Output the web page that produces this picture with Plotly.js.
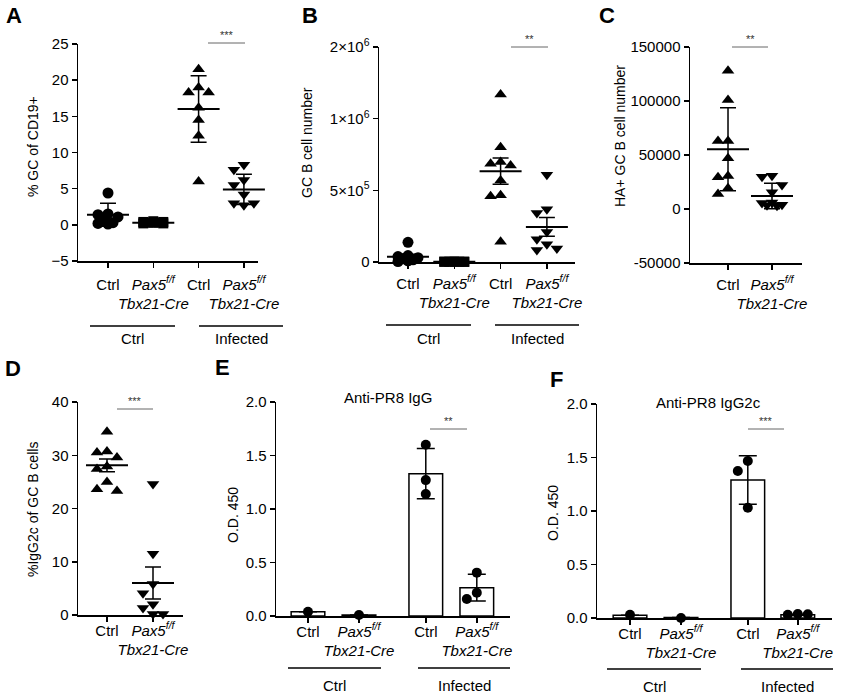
<!DOCTYPE html>
<html>
<head>
<meta charset="utf-8">
<script src="https://cdn.plot.ly/plotly-3.0.1.min.js"></script>
<style>
  body { margin: 0; background: #fff; }
  #fig { width: 843px; height: 695px; }
</style>
</head>
<body>
<div id="fig"></div>
<script>
// category labels
const catCtrl = 'Ctrl';
const catPax = '<i>Pax5<sup>f/f</sup></i><br><i>Tbx21-Cre</i>';
const groupNames = ['Ctrl', 'Infected'];

// A: % GC of CD19+ (mean +/- SD)
const aCtrl = [4.4, 1.5, 1.4, 1.1, 0.9, 0.3, 0.2, 0.1];
const aPaxCtrl = [0.5, 0.4, 0.4, 0.3, 0.3, 0.3, 0.2, 0.2];
const aInf = [21.5, 19.0, 18.3, 18.3, 16.2, 14.5, 12.3, 6.0];
const aPaxInf = [8.3, 7.6, 6.2, 5.5, 4.2, 3.0, 3.0, 2.7];
const aMean = [1.4, 0.3, 16.0, 4.9];
const aErr = [1.6, 0.15, 4.6, 2.1];

// B: GC B cell number (mean +/- SEM)
const bCtrl = [137000, 45000, 38000, 30000, 22000, 15000, 8000, 3000];
const bPaxCtrl = [4000, 3000, 3000, 2000, 2000, 1000, 1000, 500];
const bInf = [1338000, 800000, 697000, 685000, 674000, 569000, 465000, 458000, 141000];
const bPaxInf = [609000, 368000, 342000, 210000, 158000, 123000, 95000, 83000];
const bMean = [37000, 2000, 634000, 245000];
const bErr = [17000, 500, 91000, 65000];
const bTickVals = [0, 500000, 1000000, 2000000];
const bTickText = ['0', '5×10<sup>5</sup>', '1×10<sup>6</sup>', '2×10<sup>6</sup>'];

// C: HA+ GC B cell number (mean +/- SD)
const cCtrl = [128000, 100900, 63000, 63000, 46900, 30600, 29300, 19100, 13900];
const cPax = [30900, 29900, 22200, 15400, 6000, 5500, 4000, 3500, 3000];
const cMean = [55300, 12000];
const cErr = [38500, 11800];

// D: %IgG2c of GC B cells (mean +/- SEM)
const dCtrl = [34.4, 30.7, 30.5, 29.6, 27.9, 27.4, 25.0, 23.6, 23.3];
const dPax = [24.6, 11.5, 5.8, 4.1, 2.0, 1.3, 0.2, 0.2];
const dMean = [28.1, 6.0];
const dErr = [1.2, 3.0];

// E: Anti-PR8 IgG, O.D. 450 (mean +/- SD)
const eMean = [0.04, 0.01, 1.33, 0.265];
const eErr = [0, 0, 0.235, 0.125];
const ePts = [[0.04], [0.01], [1.60, 1.27, 1.14], [0.405, 0.218, 0.159]];

// F: Anti-PR8 IgG2c, O.D. 450 (mean +/- SD)
const fMean = [0.025, 0.005, 1.29, 0.03];
const fErr = [0, 0, 0.227, 0.005];
const fPts = [[0.03], [0.0], [1.467, 1.374, 1.031], [0.037, 0.03, 0.035]];

const W = 843, H = 695;
const fx = p => p / W;
const fy = p => 1 - p / H;
const FONT = 'Arial, "Liberation Sans", sans-serif';

// segmented axis for B: upper segment (1e6..2e6) is drawn at half scale
const seg = v => v <= 1e6 ? v : 1e6 + (v - 1e6) / 2;

// panel frames in pixels
const P = {
  1: { xd: [78, 258], yd: [44, 261], xr: [-0.662, 3.311], yr: [-5, 25], so: 4 },
  2: { xd: [379, 575], yd: [47, 262], xr: [-0.626, 3.607], yr: [0, 1500000], so: 2 },
  3: { xd: [690, 802], yd: [47, 263], xr: [-0.864, 1.682], yr: [-50000, 150000], so: 2 },
  4: { xd: [78, 183], yd: [402, 615], xr: [-0.630, 1.652], yr: [0, 40], so: -4 },
  5: { xd: [276, 510], yd: [402, 616], xr: [-0.627, 3.961], yr: [0, 2], so: -4 },
  6: { xd: [597, 832], yd: [404, 618], xr: [-0.647, 3.961], yr: [0, 2], so: -4 }
};
const xPx = p => (p.xd[1] - p.xd[0]) / (p.xr[1] - p.xr[0]);
const yPx = p => (p.yd[1] - p.yd[0]) / (p.yr[1] - p.yr[0]);
const sfx = i => i === 1 ? '' : String(i);

// simple beeswarm: put each point at the nearest free slot
function swarm(vals, ys, d) {
  const placed = [];
  const steps = [0, -1, 1, -0.5, 0.5];
  return vals.map(v => {
    const y = v * ys;
    let best = 0, bestGap = -1;
    for (const k of steps) {
      const x = k * d;
      let gap = Infinity;
      placed.forEach(q => { gap = Math.min(gap, Math.hypot(q.x - x, q.y - y)); });
      if (gap >= d) { best = x; bestGap = gap; break; }
      if (gap > bestGap) { bestGap = gap; best = x; }
    }
    placed.push({ x: best, y });
    return best;
  });
}

function dots(vals, pos, i, symbol, size) {
  const p = P[i];
  const off = swarm(vals, yPx(p), 10);
  return {
    type: 'scatter', mode: 'markers',
    x: vals.map((v, k) => pos + off[k] / xPx(p)), y: vals,
    xaxis: 'x' + sfx(i), yaxis: 'y' + sfx(i),
    marker: { symbol, size, color: 'black' },
    cliponaxis: false, hoverinfo: 'skip'
  };
}

function meanLine(means, errs, pos, i) {
  return {
    type: 'scatter', mode: 'markers', x: pos, y: means,
    xaxis: 'x' + sfx(i), yaxis: 'y' + sfx(i),
    marker: { symbol: 'line-ew', size: 30, color: 'black', line: { width: 2, color: 'black' } },
    error_y: { type: 'data', array: errs, visible: true, color: 'black', thickness: 1.5, width: 8 },
    cliponaxis: false, hoverinfo: 'skip'
  };
}

function bars(means, errs, pos, i) {
  return {
    type: 'bar', x: pos, y: means, width: 0.66,
    xaxis: 'x' + sfx(i), yaxis: 'y' + sfx(i),
    marker: { color: 'white', line: { color: 'black', width: 1.5 } },
    error_y: { type: 'data', array: errs, visible: true, color: 'black', thickness: 1.5, width: 9 },
    hoverinfo: 'skip'
  };
}

const pos4 = [0, 1, 2, 3];
const pos2 = [0, 1];
const ePos = [0, 1, 2.31, 3.31];
const fPos = [0, 1, 2.31, 3.29];

const traces = [
  dots(aCtrl, 0, 1, 'circle', 11),
  dots(aPaxCtrl, 1, 1, 'square', 10),
  dots(aInf, 2, 1, 'triangle-up', 11),
  dots(aPaxInf, 3, 1, 'triangle-down', 11),
  meanLine(aMean, aErr, pos4, 1),

  dots(bCtrl.map(seg), 0, 2, 'circle', 11),
  dots(bPaxCtrl.map(seg), 1, 2, 'square', 10),
  dots(bInf.map(seg), 2, 2, 'triangle-up', 11),
  dots(bPaxInf.map(seg), 3, 2, 'triangle-down', 11),
  meanLine(bMean.map(seg), bErr, pos4, 2),

  dots(cCtrl, 0, 3, 'triangle-up', 11),
  dots(cPax, 1, 3, 'triangle-down', 11),
  meanLine(cMean, cErr, pos2, 3),

  dots(dCtrl, 0, 4, 'triangle-up', 11),
  dots(dPax, 1, 4, 'triangle-down', 11),
  meanLine(dMean, dErr, pos2, 4),

  bars(eMean, eErr, ePos, 5),
  ...ePts.map((g, k) => dots(g, ePos[k], 5, 'circle', 10)),

  bars(fMean, fErr, fPos, 6),
  ...fPts.map((g, k) => dots(g, fPos[k], 6, 'circle', 10))
];

const layout = {
  width: W, height: H,
  margin: { l: 0, r: 0, t: 0, b: 0 },
  paper_bgcolor: 'white', plot_bgcolor: 'rgba(0,0,0,0)',
  showlegend: false,
  font: { family: FONT, color: 'black', size: 15 },
  shapes: [], annotations: []
};

const xTicks4 = [catCtrl, catPax, catCtrl, catPax];
const xTicks2 = [catCtrl, catPax];
const xTickPos = { 1: pos4, 2: pos4, 3: pos2, 4: pos2, 5: ePos, 6: fPos };
const xTickTxt = { 1: xTicks4, 2: xTicks4, 3: xTicks2, 4: xTicks2, 5: xTicks4, 6: xTicks4 };

for (let i = 1; i <= 6; i++) {
  const p = P[i];
  layout['xaxis' + sfx(i)] = {
    domain: [fx(p.xd[0]), fx(p.xd[1])], range: p.xr, anchor: 'y' + sfx(i),
    showgrid: false, zeroline: false, showline: true, linecolor: 'black', linewidth: 1.5,
    ticks: 'outside', ticklen: 5, tickwidth: 1.5, tickcolor: 'black',
    tickvals: xTickPos[i], ticktext: xTickTxt[i], tickangle: 0, ticklabelstandoff: p.so,
    tickfont: { size: 15, family: FONT, color: 'black' }, fixedrange: true
  };
  layout['yaxis' + sfx(i)] = {
    domain: [fy(p.yd[1]), fy(p.yd[0])], range: p.yr, anchor: 'x' + sfx(i),
    showgrid: false, zeroline: false, showline: true, linecolor: 'black', linewidth: 1.5,
    ticks: 'outside', ticklen: 5, tickwidth: 1.5, tickcolor: 'black',
    tickfont: { size: 15, family: FONT, color: 'black' }, fixedrange: true
  };
}
layout.yaxis.tickvals = [-5, 0, 5, 10, 15, 20, 25];
layout.yaxis2.tickvals = bTickVals.map(seg);
layout.yaxis2.ticktext = bTickText;
layout.yaxis3.tickvals = [-50000, 0, 50000, 100000, 150000];
layout.yaxis3.ticktext = ['-50000', '0', '50000', '100000', '150000'];
layout.yaxis4.tickvals = [0, 10, 20, 30, 40];
layout.yaxis5.tickvals = [0, 0.5, 1, 1.5, 2];
layout.yaxis5.tickformat = '.1f';
layout.yaxis6.tickvals = [0, 0.5, 1, 1.5, 2];
layout.yaxis6.tickformat = '.1f';

function text(t, x, y, opts) {
  layout.annotations.push(Object.assign({
    text: t, x: fx(x), y: fy(y), xref: 'paper', yref: 'paper',
    showarrow: false, xanchor: 'center', yanchor: 'middle',
    font: { family: FONT, size: 15, color: 'black' }
  }, opts || {}));
}
function line(x0, x1, y, color, w) {
  layout.shapes.push({
    type: 'line', xref: 'paper', yref: 'paper',
    x0: fx(x0), x1: fx(x1), y0: fy(y), y1: fy(y),
    line: { color: color || 'black', width: w || 1.5 }
  });
}

// panel letters
[['A', 14, 16], ['B', 310, 16], ['C', 607, 16], ['D', 13, 368], ['E', 223, 367], ['F', 556, 379]]
  .forEach(([t, x, y]) => text('<b>' + t + '</b>', x, y, { font: { family: FONT, size: 22, color: 'black' } }));

// y titles
const yt = { textangle: -90, font: { family: FONT, size: 14, color: 'black' } };
text('% GC of CD19+', 33, 147, yt);
text('GC B cell number', 307, 143, yt);
text('HA+ GC B cell number', 620, 136, yt);
text('%IgG2c of GC B cells', 33, 510, yt);
text('O.D. 450', 233, 515, yt);
text('O.D. 450', 553, 513, yt);

// chart titles for E and F
text('Anti-PR8 IgG', 388, 397);
text('Anti-PR8 IgG2c', 708, 402);

// group lines and labels
[[90, 175, 326, 338], [199, 283, 326, 338],
 [386, 471, 325, 338], [495, 579, 325, 338],
 [288, 381, 668, 685], [418, 510, 668, 685],
 [607, 701, 669, 686], [741, 833, 669, 686]]
  .forEach(([x0, x1, y, ly], k) => {
    line(x0, x1, y);
    text(groupNames[k % 2], (x0 + x1) / 2, ly);
  });

// significance marks
[[208, 245, 43, '***'], [511, 548, 47, '**'], [732, 768, 47, '**'],
 [117, 153, 409, '***'], [430, 467, 429, '**'], [748, 784, 429, '***']]
  .forEach(([x0, x1, y, s]) => {
    line(x0, x1, y, '#666', 1);
    text(s, (x0 + x1) / 2, y - 8, { font: { family: FONT, size: 11, color: '#333' } });
  });

Plotly.newPlot('fig', traces, layout, { displayModeBar: false, staticPlot: true });
</script>
</body>
</html>
